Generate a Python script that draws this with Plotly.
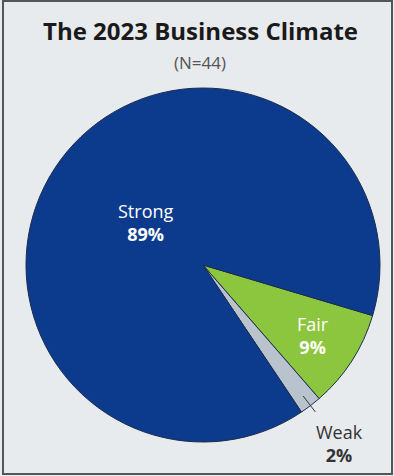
import numpy as np
import plotly.graph_objects as go

title = "The 2023 Business Climate"
subtitle = "(N=44)"
labels = ["Fair", "Weak", "Strong"]
values = [9, 2, 89]
colors = ["#8cc63e", "#b9c3cd", "#0c3b8e"]

W, H = 394, 476
cx, cy, R = 203, 265, 177  # pixel geometry of the pie
ROT = 106.6

fig = go.Figure()
fig.add_trace(go.Pie(
    labels=labels, values=values, sort=False, direction="clockwise",
    rotation=ROT,
    marker=dict(colors=colors, line=dict(color="#1c2c4c", width=1)),
    textinfo="none",
    hoverinfo="label+percent",
    domain=dict(x=[(cx - R) / W, (cx + R) / W], y=[(H - cy - R) / H, (H - cy + R) / H]),
    showlegend=False,
))

# slice mid-angles derived from the data (compass degrees, clockwise from 12 o'clock)
tot = sum(values)
cum = np.cumsum([0] + values[:-1])
mids = [ROT + 360 * (c + v / 2) / tot for c, v in zip(cum, values)]


def pos(i, r):
    a = np.deg2rad(mids[i])
    return (cx + np.sin(a) * r) / W, (H - cy + np.cos(a) * r) / H


# label radius (fraction/offset of R), colour per slice
label_r = [0.74 * R, R + 48, 0.40 * R]
label_c = ["white", "#333333", "white"]
for i in range(3):
    x, y = pos(i, label_r[i])
    fig.add_annotation(xref="paper", yref="paper", x=x, y=y, xanchor="center", yanchor="middle",
                       text=f"{labels[i]}<br><b>{values[i]}%</b>", showarrow=False, align="center",
                       font=dict(size=18, color=label_c[i], family="Open Sans"))

# leader tick for the small slice
xa, ya = pos(1, R - 12)
xb, yb = pos(1, R + 8)
fig.add_shape(type="line", xref="paper", yref="paper", x0=xa, y0=ya, x1=xb, y1=yb,
              line=dict(color="#333333", width=1))

fig.add_annotation(xref="paper", yref="paper", x=200 / W, y=(H - 31) / H, text=f"<b>{title}</b>",
                   xanchor="center", yanchor="middle",
                   showarrow=False, font=dict(size=24, color="#1a1a1a", family="Open Sans"))
fig.add_annotation(xref="paper", yref="paper", x=200 / W, y=(H - 63) / H, text=subtitle,
                   xanchor="center", yanchor="middle",
                   showarrow=False, font=dict(size=17, color="#555555", family="Open Sans"))

fig.add_shape(type="rect", xref="paper", yref="paper", x0=3 / W, y0=2 / H, x1=392 / W, y1=(H - 1) / H,
              line=dict(color="#555555", width=2))

fig.update_layout(width=W, height=H, margin=dict(l=0, r=0, t=0, b=0),
                  paper_bgcolor="#e8ebee", plot_bgcolor="#e8ebee")
fig.write_html("out.html")
